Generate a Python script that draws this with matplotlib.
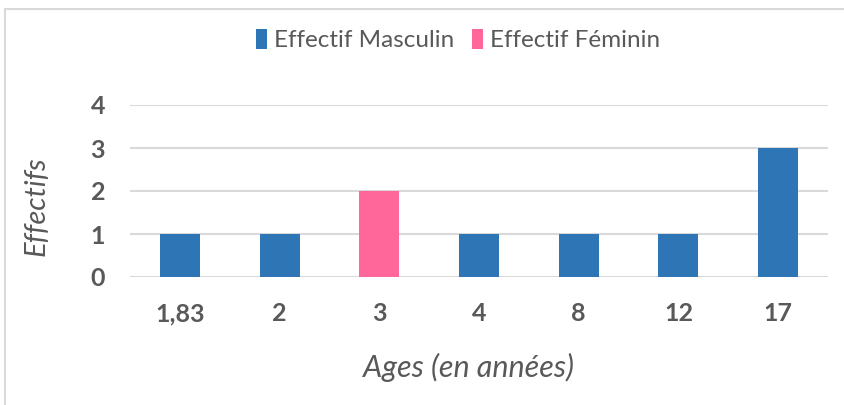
import matplotlib
matplotlib.use("Agg")
import matplotlib.pyplot as plt
from matplotlib.patches import Rectangle
import numpy as np

categories = ["1,83", "2", "3", "4", "8", "12", "17"]
masculin = [1, 1, 0, 1, 1, 1, 3]
feminin = [0, 0, 2, 0, 0, 0, 0]
series_names = ["Effectif Masculin", "Effectif Féminin"]
colors = ["#2E75B6", "#FF6699"]

plt.rcParams['font.family'] = ['Lato', 'DejaVu Sans']
W, H = 845, 405
fig = plt.figure(figsize=(W/100, H/100), dpi=100)
fig.patch.set_facecolor("white")

# outer frame
fig.patches.append(Rectangle((5/W, -0.05), 1.0, (H-9)/H + 0.05, transform=fig.transFigure,
                             fill=False, edgecolor="#D9D9D9", linewidth=1.5))

ax = fig.add_axes([130/W, 128/H, (828-130)/W, (300-128)/H])
x = np.arange(len(categories))
ax.bar(x, masculin, width=0.4, color=colors[0], label=series_names[0], zorder=3)
ax.bar(x, feminin, width=0.4, bottom=masculin, color=colors[1], label=series_names[1], zorder=3)

ax.set_xlim(-0.5, len(categories) - 0.5)
ax.set_ylim(0, 4)
ax.set_yticks([0, 1, 2, 3, 4])
ax.yaxis.grid(True, color="#D9D9D9", linewidth=1.5, zorder=0)
for s in ax.spines.values():
    s.set_visible(False)
ax.tick_params(length=0)
ax.set_xticks(x)
ax.set_xticklabels(categories)
for lab in ax.get_xticklabels() + ax.get_yticklabels():
    lab.set_fontweight("bold")
    lab.set_fontsize(18)
    lab.set_color("#595959")
ax.tick_params(axis="x", pad=18)
ax.tick_params(axis="y", pad=18)

ax.set_xlabel("Ages (en années)", fontsize=22, style="italic", color="#595959")
ax.set_ylabel("Effectifs", fontsize=21, style="italic", color="#595959")
ax.xaxis.set_label_coords((469-130)/698, (277-353)/172)
ax.yaxis.set_label_coords((50-130)/698, (277-206)/172)

leg = fig.legend(loc="center", bbox_to_anchor=(458/W, 1 - 40/H), ncol=2, frameon=False,
                 fontsize=17.5, handlelength=0.45, handleheight=0.9, handletextpad=0.3,
                 columnspacing=0.7, labelcolor="#595959")

fig.savefig("out.png", dpi=100, facecolor="white")
